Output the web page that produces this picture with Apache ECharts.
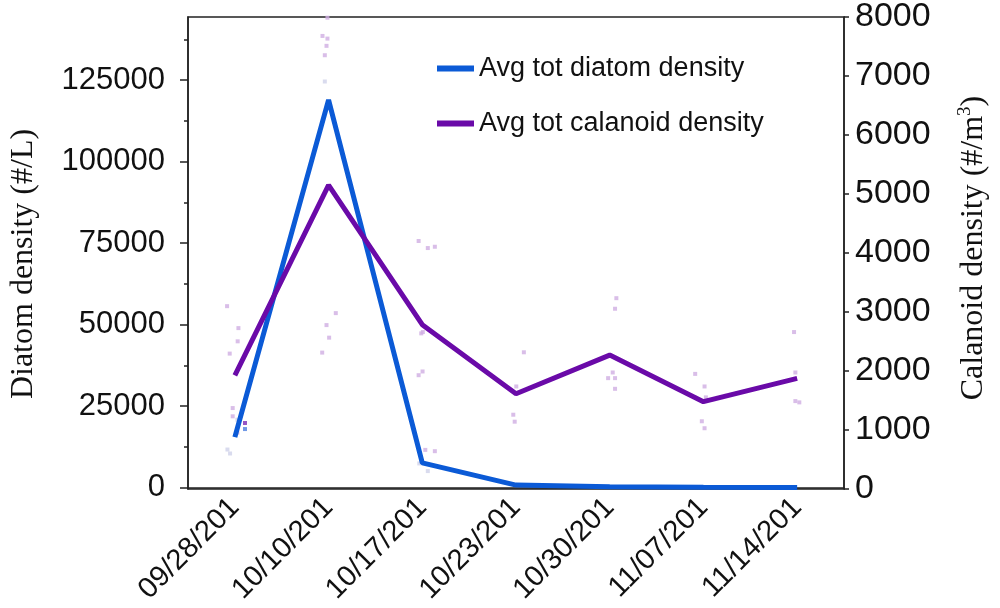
<!DOCTYPE html>
<html>
<head>
<meta charset="utf-8">
<script src="https://cdn.jsdelivr.net/npm/echarts@6/dist/echarts.min.js"></script>
<style>html,body{margin:0;padding:0;background:#fff}#c{width:1000px;height:608px}</style>
</head>
<body>
<div id="c"></div>
<script>
// ---- data ----
var categories = ["09/28/201", "10/10/201", "10/17/201", "10/23/201", "10/30/201", "11/07/201", "11/14/201"];
var diatomAvg = [15500, 119000, 7600, 800, 300, 100, 50];
var calanoidAvg = [1925, 5150, 2785, 1615, 2270, 1480, 1875];
var leftMajorTicks = [0, 25000, 50000, 75000, 100000, 125000];
var leftMinorTicks = [12500, 37500, 62500, 87500, 112500, 137500];
// replicate points: [position along the date axis (0..7), value]
var calanoidReps = [
  [0.417, 3099], [0.538, 2727], [0.530, 2503], [0.445, 2295], [0.477, 1372], [0.477, 1232], [0.527, 955],
  [1.488, 7988], [1.435, 7679], [1.488, 7634], [1.478, 7511], [1.460, 7352], [1.478, 2778], [1.577, 2981], [1.506, 2565], [1.432, 2312],
  [2.461, 4203], [2.559, 4084], [2.634, 4106], [2.489, 2638], [2.506, 2660], [2.461, 1929], [2.503, 1992], [2.532, 663], [2.634, 641],
  [3.584, 2317], [3.503, 1738], [3.471, 1259], [3.486, 1141],
  [4.571, 3234], [4.557, 3055], [4.532, 1975], [4.483, 1879], [4.557, 1879], [4.557, 1698],
  [5.412, 1951], [5.512, 1738], [5.526, 1553], [5.483, 1148], [5.512, 1030],
  [6.467, 2660], [6.481, 1975], [6.481, 1490], [6.523, 1468]
];
var diatomReps = [
  [0.527, 20855], [0.421, 11708], [0.449, 10489],
  [1.460, 124613],
  [2.468, 7440], [2.559, 5092]
];
var calanoidRepsDark = [[0.608, 1119]];
var diatomRepsDark = [[0.608, 17989]];

var BLUE = '#0b5ad6', PURPLE = '#6a0aa8', AX = '#222';
var sans = 'Liberation Sans, Arial, sans-serif';
var serif = 'Liberation Serif, Times New Roman, serif';
function plain(v) { return String(v); }

var chart = echarts.init(document.getElementById('c'), null, {renderer: 'canvas'});
chart.setOption({
  animation: false,
  backgroundColor: '#fff',
  grid: {left: 188, right: 152, top: 14, bottom: 119, show: true, borderColor: AX, borderWidth: 1.5, backgroundColor: 'transparent'},
  legend: {
    orient: 'vertical', left: 432, top: 50, itemWidth: 37, itemHeight: 6, itemGap: 28,
    icon: 'rect',
    textStyle: {fontFamily: sans, fontSize: 27, color: '#111', lineHeight: 27},
    data: ['Avg tot diatom density', 'Avg tot calanoid density']
  },
  xAxis: [{
    type: 'category', data: categories, boundaryGap: true,
    axisLine: {lineStyle: {color: AX, width: 1.5}},
    axisTick: {show: false},
    axisLabel: {rotate: 45, fontFamily: sans, fontSize: 29, color: '#111', margin: 14, interval: 0}
  }, {
    type: 'value', min: 0, max: 7, show: false
  }],
  yAxis: [{
    type: 'value', position: 'left', min: -400, max: 144400,
    name: 'Diatom density (#/L)', nameLocation: 'middle', nameRotate: 90, nameGap: 148,
    nameTextStyle: {fontFamily: serif, fontSize: 32, color: '#111', padding: [0, 22, 0, 0]},
    axisLine: {show: true, lineStyle: {color: AX, width: 1.5}},
    axisTick: {show: true, inside: false, length: 8, customValues: leftMajorTicks, lineStyle: {color: AX, width: 1.5}},
    axisLabel: {customValues: leftMajorTicks, formatter: plain, fontFamily: sans, fontSize: 31, color: '#111', margin: 23},
    splitLine: {show: false}
  }, {
    type: 'value', position: 'right', min: 0, max: 8000, interval: 1000,
    name: 'Calanoid density (#/m{sup|3})', nameLocation: 'middle', nameRotate: 90, nameGap: 112,
    nameTextStyle: {fontFamily: serif, fontSize: 32, color: '#111', lineHeight: 36, padding: [0, 0, 0, 10],
      rich: {sup: {fontFamily: serif, fontSize: 19, color: '#111', verticalAlign: 'top', lineHeight: 19}}},
    axisLine: {show: true, lineStyle: {color: AX, width: 1.5}},
    axisTick: {show: true, inside: false, length: 5, lineStyle: {color: AX, width: 1.5}},
    axisLabel: {formatter: plain, fontFamily: sans, fontSize: 34, color: '#111', margin: 11},
    splitLine: {show: false}
  }, {
    type: 'value', position: 'left', min: -400, max: 144400,
    axisLine: {show: false},
    axisTick: {show: true, length: 4, customValues: leftMinorTicks, lineStyle: {color: AX, width: 1.5}},
    axisLabel: {show: false},
    splitLine: {show: false}
  }],
  series: [{
    name: 'calanoid replicates', type: 'scatter', xAxisIndex: 1, yAxisIndex: 1,
    data: calanoidReps, symbol: 'rect', symbolSize: 4, itemStyle: {color: '#cfaee2'}, z: 1
  }, {
    name: 'diatom replicates', type: 'scatter', xAxisIndex: 1, yAxisIndex: 0,
    data: diatomReps, symbol: 'rect', symbolSize: 4, itemStyle: {color: '#cfd2ea'}, z: 1
  }, {
    name: 'calanoid replicates dark', type: 'scatter', xAxisIndex: 1, yAxisIndex: 1,
    data: calanoidRepsDark, symbol: 'rect', symbolSize: 4, itemStyle: {color: '#7a2cb6'}, z: 1
  }, {
    name: 'diatom replicates dark', type: 'scatter', xAxisIndex: 1, yAxisIndex: 0,
    data: diatomRepsDark, symbol: 'rect', symbolSize: 4, itemStyle: {color: '#4d80e0'}, z: 1
  }, {
    name: 'Avg tot diatom density', type: 'line', xAxisIndex: 0, yAxisIndex: 0,
    data: diatomAvg, showSymbol: false, symbol: 'none',
    lineStyle: {color: BLUE, width: 5}, itemStyle: {color: BLUE}, z: 3
  }, {
    name: 'Avg tot calanoid density', type: 'line', xAxisIndex: 0, yAxisIndex: 1,
    data: calanoidAvg, showSymbol: false, symbol: 'none',
    lineStyle: {color: PURPLE, width: 5}, itemStyle: {color: PURPLE}, z: 3
  }]
});
</script>
</body>
</html>
